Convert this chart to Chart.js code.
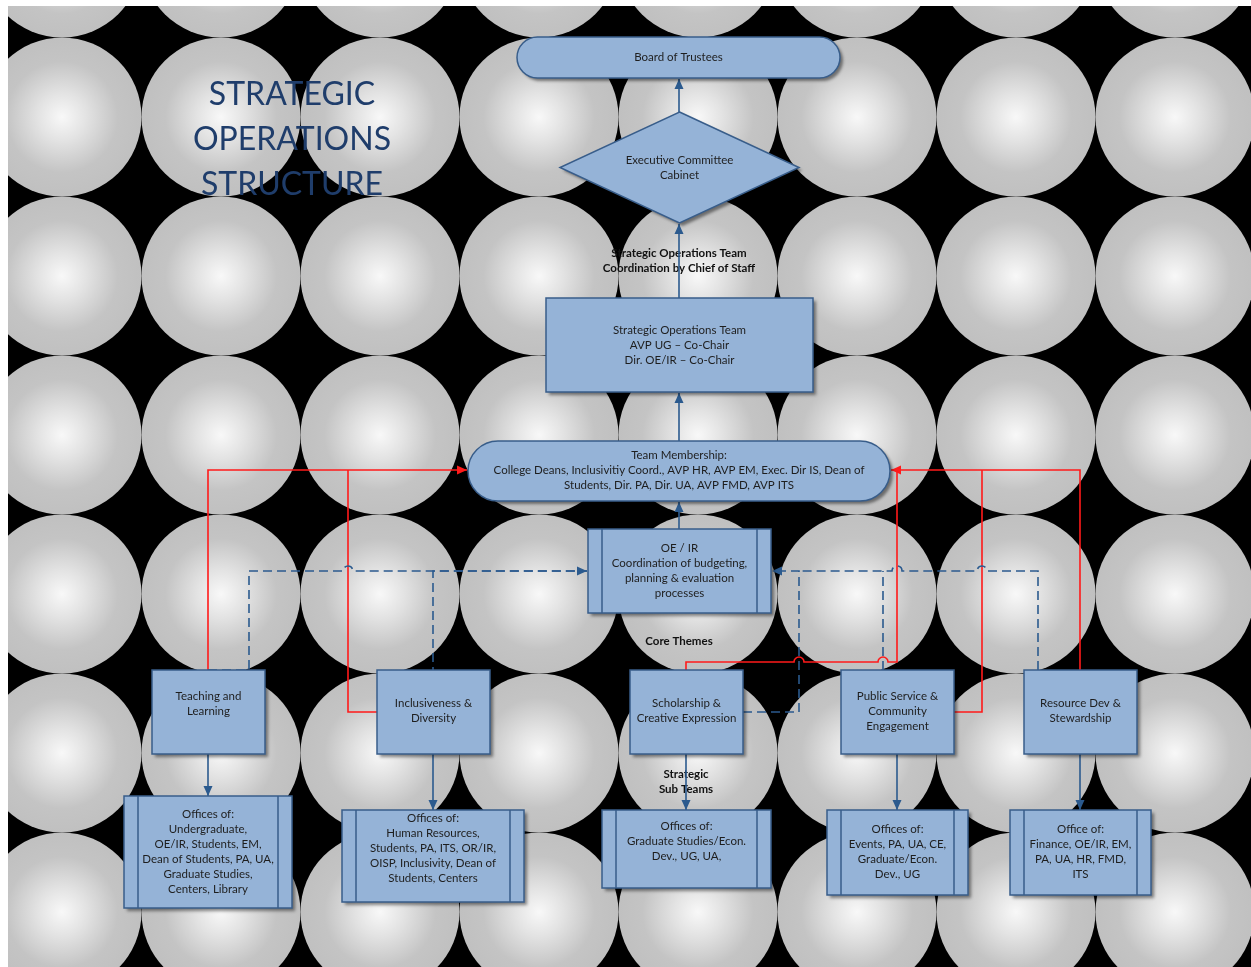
<!DOCTYPE html>
<html>
<head>
<meta charset="utf-8">
<script src="https://cdn.jsdelivr.net/npm/chart.js@4.4.1/dist/chart.umd.min.js"></script>
<style>
  html, body { margin: 0; padding: 0; background: #fff; }
  #orgChart { display: block; }
</style>
</head>
<body>
<canvas id="orgChart" width="1251" height="967"></canvas>
<script>
// Texte du graphique
const titleLines = ['STRATEGIC', 'OPERATIONS', 'STRUCTURE'];
const hierarchy = [
    ['Board of Trustees'],
    ['Executive Committee', 'Cabinet'],
    ['Strategic Operations Team', 'AVP UG \u2013 Co-Chair', 'Dir. OE/IR \u2013 Co-Chair'],
    ['Team Membership:', 'College Deans, Inclusivitiy Coord., AVP HR, AVP EM, Exec. Dir IS, Dean of', 'Students, Dir. PA, Dir. UA, AVP FMD, AVP ITS'],
    ['OE / IR', 'Coordination of budgeting,', 'planning & evaluation', 'processes']
];
const coreThemes = [
    ['Teaching and', 'Learning'],
    ['Inclusiveness &', 'Diversity'],
    ['Scholarship &', 'Creative Expression'],
    ['Public Service &', 'Community', 'Engagement'],
    ['Resource Dev &', 'Stewardship']
];
const themeOffices = [
    ['Offices of:', 'Undergraduate,', 'OE/IR, Students, EM,', 'Dean of Students, PA, UA,', 'Graduate Studies,', 'Centers, Library'],
    ['Offices of:', 'Human Resources,', 'Students, PA, ITS, OR/IR,', 'OISP, Inclusivity, Dean of', 'Students, Centers'],
    ['Offices of:', 'Graduate Studies/Econ.', 'Dev., UG, UA,'],
    ['Offices of:', 'Events, PA, UA, CE,', 'Graduate/Econ.', 'Dev., UG'],
    ['Office of:', 'Finance, OE/IR, EM,', 'PA, UA, HR, FMD,', 'ITS']
];
const edgeLabels = [
    ['Strategic Operations Team', 'Coordination by Chief of Staff'],
    ['Core Themes'],
    ['Strategic', 'Sub Teams']
];

// Mise en page (unités de l'axe, 0..1251 x 0..967)
const hierarchyBoxes = [
    { shape: 'pill', x0: 517, x1: 840, y0: 37, y1: 78, ty: 57 },
    { shape: 'diamond', x0: 560, x1: 799, y0: 112, y1: 223, ty: 160 },
    { shape: 'rect', x0: 546, x1: 813, y0: 298, y1: 392, ty: 330 },
    { shape: 'pill', x0: 468, x1: 890, y0: 441, y1: 501, ty: 455 },
    { shape: 'process', x0: 588, x1: 771, y0: 529, y1: 613, ty: 548, inset: 14 }
];
const themeBoxes = [
    { x0: 152, x1: 265, ty: 696 },
    { x0: 377, x1: 490, ty: 703 },
    { x0: 630, x1: 743, ty: 703 },
    { x0: 841, x1: 954, ty: 696 },
    { x0: 1024, x1: 1137, ty: 703 }
];
const officeBoxes = [
    { x0: 124, x1: 292, y0: 796, y1: 908, ty: 814 },
    { x0: 342, x1: 524, y0: 810, y1: 902, ty: 818 },
    { x0: 602, x1: 771, y0: 810, y1: 888, ty: 826 },
    { x0: 827, x1: 968, y0: 810, y1: 895, ty: 829 },
    { x0: 1010, x1: 1151, y0: 810, y1: 895, ty: 829 }
];
const edgeLabelPos = [[679, 253], [679, 641], [686, 774]];

// Liaisons : [points], sauts, flèche au bout
const solidLinks = [
    [[679, 112], [679, 79]],
    [[679, 298], [679, 224]],
    [[679, 441], [679, 393]],
    [[679, 529], [679, 502]],
    [[208, 754], [208, 796]],
    [[433, 754], [433, 810]],
    [[686, 754], [686, 810]],
    [[897, 754], [897, 810]],
    [[1080, 754], [1080, 810]]
];
const redLinks = [
    { pts: [[208, 670], [208, 470], [467, 470]], hops: [], arrow: true },
    { pts: [[377, 712], [348, 712], [348, 470]], hops: [] },
    { pts: [[1080, 670], [1080, 470], [891, 470]], hops: [], arrow: true },
    { pts: [[954, 712], [982, 712], [982, 470]], hops: [] },
    { pts: [[686, 670], [686, 662], [897, 662], [897, 470]], hops: [799, 883] }
];
const dashedLinks = [
    { pts: [[208, 670], [249, 670], [249, 571], [587, 571]], hops: [348], arrow: true },
    { pts: [[433, 670], [433, 571], [587, 571]], hops: [], offset: 6 },
    { pts: [[743, 712], [799, 712], [799, 571], [772, 571]], hops: [], arrow: true },
    { pts: [[883, 670], [883, 571]], hops: [] },
    { pts: [[1038, 670], [1038, 571], [799, 571]], hops: [982, 897] }
];

const FILL = '#95b3d7';
const EDGE = '#385d8a';
const LINE = '#2b5a8e';
const INK = '#1e1e1e';
const FONT = 'Lato, "Open Sans", sans-serif';

function px(chart, x, y) {
    return [chart.scales.x.getPixelForValue(x), chart.scales.y.getPixelForValue(y)];
}

function drawBackground(chart) {
    const ctx = chart.ctx;
    ctx.save();
    ctx.fillStyle = '#ffffff';
    ctx.fillRect(0, 0, chart.width, chart.height);
    ctx.beginPath();
    ctx.rect(8, 6, chart.width - 8, chart.height - 6);
    ctx.clip();
    ctx.fillStyle = '#000000';
    ctx.fillRect(0, 0, chart.width, chart.height);
    const r = 79.5, step = 159;
    for (let cy = 117 - step; cy < chart.height + r; cy += step) {
        for (let cx = 62 - step; cx < chart.width + r; cx += step) {
            const g = ctx.createRadialGradient(cx, cy, 0, cx, cy, r);
            g.addColorStop(0, '#f8f8f8');
            g.addColorStop(0.3, '#e3e3e3');
            g.addColorStop(0.7, '#c4c4c4');
            g.addColorStop(1, '#c0c0c0');
            ctx.fillStyle = g;
            ctx.beginPath();
            ctx.arc(cx, cy, r, 0, Math.PI * 2);
            ctx.fill();
        }
    }
    ctx.restore();
}

function shapePath(ctx, s) {
    ctx.beginPath();
    if (s.shape === 'pill') {
        const r = (s.y1 - s.y0) / 2;
        ctx.moveTo(s.x0 + r, s.y0);
        ctx.lineTo(s.x1 - r, s.y0);
        ctx.arc(s.x1 - r, s.y0 + r, r, -Math.PI / 2, Math.PI / 2);
        ctx.lineTo(s.x0 + r, s.y1);
        ctx.arc(s.x0 + r, s.y0 + r, r, Math.PI / 2, Math.PI * 1.5);
    } else if (s.shape === 'diamond') {
        const mx = (s.x0 + s.x1) / 2, my = (s.y0 + s.y1) / 2;
        ctx.moveTo(mx, s.y0);
        ctx.lineTo(s.x1, my);
        ctx.lineTo(mx, s.y1);
        ctx.lineTo(s.x0, my);
    } else {
        ctx.rect(s.x0, s.y0, s.x1 - s.x0, s.y1 - s.y0);
    }
    ctx.closePath();
}

function drawBox(chart, s, lines) {
    const ctx = chart.ctx;
    const [x0, y0] = px(chart, s.x0, s.y0);
    const [x1, y1] = px(chart, s.x1, s.y1);
    const [, ty] = px(chart, 0, s.ty);
    const b = { shape: s.shape, x0, y0, x1, y1 };
    ctx.save();
    ctx.shadowColor = 'rgba(0,0,0,0.45)';
    ctx.shadowOffsetX = 3;
    ctx.shadowOffsetY = 3;
    ctx.shadowBlur = 3;
    shapePath(ctx, b);
    ctx.fillStyle = FILL;
    ctx.fill();
    ctx.restore();
    ctx.save();
    shapePath(ctx, b);
    ctx.strokeStyle = EDGE;
    ctx.lineWidth = 1.5;
    ctx.stroke();
    if (s.shape === 'process') {
        ctx.beginPath();
        ctx.moveTo(x0 + s.inset, y0); ctx.lineTo(x0 + s.inset, y1);
        ctx.moveTo(x1 - s.inset, y0); ctx.lineTo(x1 - s.inset, y1);
        ctx.stroke();
    }
    ctx.fillStyle = INK;
    ctx.font = '11.5px ' + FONT;
    ctx.textAlign = 'center';
    ctx.textBaseline = 'middle';
    const cx = (x0 + x1) / 2;
    lines.forEach((t, i) => ctx.fillText(t, cx, ty + i * 15));
    ctx.restore();
}

function arrowHead(ctx, from, to, color) {
    const ang = Math.atan2(to[1] - from[1], to[0] - from[0]);
    const len = 10, w = 4.5;
    ctx.save();
    ctx.fillStyle = color;
    ctx.beginPath();
    ctx.moveTo(to[0], to[1]);
    ctx.lineTo(to[0] - len * Math.cos(ang) + w * Math.sin(ang), to[1] - len * Math.sin(ang) - w * Math.cos(ang));
    ctx.lineTo(to[0] - len * Math.cos(ang) - w * Math.sin(ang), to[1] - len * Math.sin(ang) + w * Math.cos(ang));
    ctx.closePath();
    ctx.fill();
    ctx.restore();
}

// Trace une polyligne avec des petits sauts sur les segments horizontaux
function drawLink(chart, link, color, dash) {
    const ctx = chart.ctx;
    const pts = link.pts.map(p => px(chart, p[0], p[1]));
    const hops = (link.hops || []).map(h => px(chart, h, 0)[0]);
    const hr = 5;
    ctx.save();
    ctx.strokeStyle = color;
    ctx.lineWidth = 1.6;
    ctx.setLineDash(dash || []);
    ctx.lineDashOffset = link.offset || 0;
    ctx.beginPath();
    ctx.moveTo(pts[0][0], pts[0][1]);
    for (let i = 1; i < pts.length; i++) {
        const a = pts[i - 1], b = pts[i];
        if (a[1] === b[1]) {
            const dir = Math.sign(b[0] - a[0]);
            hops.filter(h => (h - a[0]) * dir > 0 && (b[0] - h) * dir > 0)
                .sort((p, q) => (p - q) * dir)
                .forEach(h => {
                    ctx.lineTo(h - dir * hr, a[1]);
                    if (dir > 0) ctx.arc(h, a[1], hr, Math.PI, 0, false);
                    else ctx.arc(h, a[1], hr, 0, Math.PI, true);
                });
        }
        ctx.lineTo(b[0], b[1]);
    }
    ctx.stroke();
    ctx.restore();
    if (link.arrow) arrowHead(ctx, pts[pts.length - 2], pts[pts.length - 1], color);
}

const orgPlugin = {
    id: 'orgPlugin',
    beforeDraw(chart) {
        drawBackground(chart);
    },
    afterDatasetsDraw(chart) {
        const ctx = chart.ctx;
        // titre
        ctx.save();
        ctx.fillStyle = '#1f3d6b';
        ctx.font = '32px ' + FONT;
        ctx.textAlign = 'center';
        ctx.textBaseline = 'middle';
        titleLines.forEach((t, i) => {
            const [x, y] = px(chart, 292, 95 + i * 45);
            ctx.fillText(t, x, y);
        });
        // libellés des liaisons
        ctx.fillStyle = '#111';
        ctx.font = 'bold 11.5px ' + FONT;
        edgeLabels.forEach((lines, k) => {
            const [x, y] = px(chart, edgeLabelPos[k][0], edgeLabelPos[k][1]);
            lines.forEach((t, i) => ctx.fillText(t, x, y + i * 15));
        });
        ctx.restore();

        solidLinks.forEach(l => drawLink(chart, { pts: l, arrow: true }, LINE));
        redLinks.forEach(l => drawLink(chart, l, '#ff1a1a'));
        dashedLinks.forEach(l => drawLink(chart, l, LINE, [9, 5]));

        hierarchyBoxes.forEach((s, i) => drawBox(chart, s, hierarchy[i]));
        themeBoxes.forEach((s, i) => drawBox(chart, { shape: 'rect', x0: s.x0, x1: s.x1, y0: 670, y1: 754, ty: s.ty }, coreThemes[i]));
        officeBoxes.forEach((s, i) => drawBox(chart, { shape: 'process', inset: 14, ...s }, themeOffices[i]));
    }
};

const ctx = document.getElementById('orgChart').getContext('2d');
const orgChart = new Chart(ctx, {
    type: 'scatter',
    data: {
        datasets: [{
            data: themeBoxes.map((s, i) => ({ x: (s.x0 + s.x1) / 2, y: 712 })),
            pointRadius: 0
        }]
    },
    options: {
        responsive: false,
        animation: false,
        devicePixelRatio: 1,
        layout: { padding: 0 },
        plugins: { legend: { display: false }, tooltip: { enabled: false } },
        scales: {
            x: { type: 'linear', min: 0, max: 1251, display: false },
            y: { type: 'linear', min: 0, max: 967, reverse: true, display: false }
        }
    },
    plugins: [orgPlugin]
});
</script>
</body>
</html>
